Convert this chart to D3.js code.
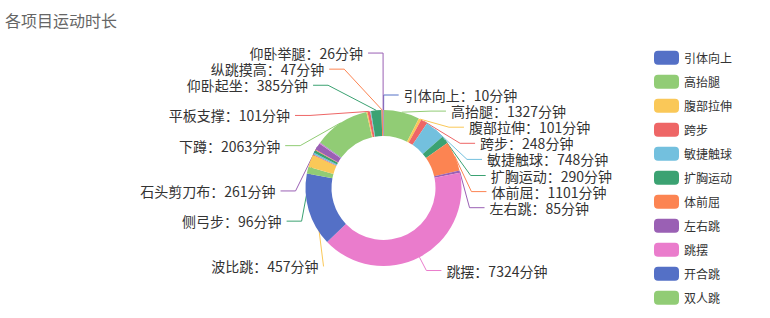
<!DOCTYPE html>
<html lang="zh-CN">
<head>
<meta charset="utf-8">
<script src="https://cdn.jsdelivr.net/npm/d3@7"></script>
<style>
html, body { margin: 0; padding: 0; background: #ffffff; }
svg { display: block; font-family: "Noto Sans CJK SC", "Microsoft YaHei", sans-serif; }
</style>
</head>
<body>
<svg id="chart" width="770" height="318"></svg>
<script>
// ---- data, clockwise from 12 o'clock ----
var chartTitle = "各项目运动时长";
var names = ["引体向上", "高抬腿", "腹部拉伸", "跨步", "敏捷触球", "扩胸运动", "体前屈", "左右跳",
  "跳摆", "开合跳", "双人跳", "波比跳", "原地跑", "深蹲跳", "侧弓步", "弓步跳", "石头剪刀布",
  "高位跳", "俯卧撑", "下蹲", "登山跑", "平板支撑", "踢腿", "仰卧起坐", "纵跳摸高", "仰卧举腿"];
var minutes = [10, 1327, 101, 248, 748, 290, 1101, 85,
  7324, 2700, 250, 457, 30, 70, 96, 30, 261,
  30, 20, 2063, 40, 101, 30, 385, 47, 26];
var unit = "分钟";
var palette = ["#5470c6", "#91cc75", "#fac858", "#ee6666", "#73c0de", "#3ba272", "#fc8452", "#9a60b4", "#ea7ccc"];

// ---- layout constants ----
var W = 770, H = 318;
var viewTop = 45, viewHeight = 260;
var cx = 383.5, cy = viewTop + viewHeight * 0.55;
var half = Math.min(W, viewHeight) / 2;
var rOuter = half * 0.6, rInner = half * 0.4;
var len1 = 15, len2 = 15, labelDist = 5;
var fontSize = 14, rectH = fontSize + 2.1;

var data = names.map(function (n, i) { return { name: n, value: minutes[i], color: palette[i % palette.length] }; });

var svg = d3.select("#chart");

// title
svg.append("text")
  .attr("x", 5).attr("y", 27)
  .attr("font-size", 16).attr("fill", "#666")
  .text(chartTitle);

var gLines = svg.append("g");
var gPie = svg.append("g").attr("transform", "translate(" + cx + "," + cy + ")");
var gLabels = svg.append("g");

var arcs = d3.pie().sort(null).value(function (d) { return d.value; })(data);
var arcGen = d3.arc().innerRadius(rInner).outerRadius(rOuter);

// measure label widths
var probe = svg.append("text").attr("font-size", fontSize);
function textWidth(s) { probe.text(s); return probe.node().getComputedTextLength(); }

// ---- initial label positions (echarts style: outside + label line) ----
var items = arcs.map(function (a, i) {
  var mid = (a.startAngle + a.endAngle) / 2;
  var nx = Math.sin(mid), ny = -Math.cos(mid);
  var x1 = cx + rOuter * nx, y1 = cy + rOuter * ny;
  var x2 = x1 + nx * len1, y2 = y1 + ny * len1;
  var dir = nx < 0 ? -1 : 1;
  var x3 = x2 + dir * len2;
  var lx = x3 + dir * labelDist;
  var text = a.data.name + "：" + a.data.value + unit;
  var w = textWidth(text);
  return {
    d: a.data, text: text, dir: dir, normal: [nx, ny], width: w,
    label: { x: lx, y: y2 },
    rect: { y: y2 - fontSize / 2 - 1.05, height: rectH },
    line: [[x1, y1], [x2, y2], [x3, y2]]
  };
});
probe.remove();

// ---- shift labels on one side so they do not overlap ----
function shiftLayout(list, minBound, maxBound) {
  var len = list.length;
  if (len < 2) return false;
  list.sort(function (a, b) { return a.rect.y - b.rect.y; });
  var lastPos = 0, adjusted = false;
  list.forEach(function (item) {
    var delta = item.rect.y - lastPos;
    if (delta < 0) { item.rect.y -= delta; item.label.y -= delta; adjusted = true; }
    lastPos = item.rect.y + item.rect.height;
  });
  var first = list[0], last = list[len - 1], minGap, maxGap;
  function updateGaps() {
    minGap = first.rect.y - minBound;
    maxGap = maxBound - last.rect.y - last.rect.height;
  }
  function shiftList(delta, start, end) {
    if (delta !== 0) adjusted = true;
    for (var i = start; i < end; i++) { list[i].rect.y += delta; list[i].label.y += delta; }
  }
  function squeezeGaps(delta, maxPct) {
    var gaps = [], total = 0;
    for (var i = 1; i < len; i++) {
      var p = list[i - 1].rect;
      var g = Math.max(list[i].rect.y - p.y - p.height, 0);
      gaps.push(g); total += g;
    }
    if (!total) return;
    var pct = Math.min(Math.abs(delta) / total, maxPct);
    if (delta > 0) { for (var j = 0; j < len - 1; j++) shiftList(gaps[j] * pct, 0, j + 1); }
    else { for (var k = len - 1; k > 0; k--) shiftList(-gaps[k - 1] * pct, k, len); }
  }
  function takeBoundsGap(gapThis, gapOther, moveDir) {
    if (gapThis < 0) {
      var move = Math.min(gapOther, -gapThis);
      if (move > 0) {
        shiftList(move * moveDir, 0, len);
        var remained = move + gapThis;
        if (remained < 0) squeezeGaps(-remained * moveDir, 1);
      } else {
        squeezeGaps(-gapThis * moveDir, 1);
      }
    }
  }
  function squeezeWhenBailout(delta) {
    var dir = delta < 0 ? -1 : 1;
    delta = Math.abs(delta);
    var step = Math.ceil(delta / (len - 1));
    for (var i = 0; i < len - 1; i++) {
      if (dir > 0) shiftList(step, 0, i + 1);
      else shiftList(-step, len - i - 1, len);
      delta -= step;
      if (delta <= 0) return;
    }
  }
  updateGaps();
  if (minGap < 0) squeezeGaps(-minGap, 0.8);
  if (maxGap < 0) squeezeGaps(maxGap, 0.8);
  updateGaps();
  takeBoundsGap(minGap, maxGap, 1);
  takeBoundsGap(maxGap, minGap, -1);
  updateGaps();
  if (minGap < 0) squeezeWhenBailout(-minGap);
  if (maxGap < 0) squeezeWhenBailout(maxGap);
  return adjusted;
}

// ---- move x back onto an ellipse after the y shift ----
function recalculateX(list, dir) {
  var rA = rOuter + len1;
  var semis = [{ list: [], maxY: 0, rB: rA }, { list: [], maxY: 0, rB: rA }];
  list.forEach(function (item) {
    var semi = item.label.y > cy ? semis[1] : semis[0];
    var dy = Math.abs(item.label.y - cy);
    if (dy >= semi.maxY) {
      var dx = item.label.x - cx - len2 * dir;
      semi.rB = Math.abs(dx) < rA ? Math.sqrt(dy * dy / (1 - dx * dx / rA / rA)) : rA;
      semi.maxY = dy;
    }
    semi.list.push(item);
  });
  semis.forEach(function (semi) {
    semi.list.forEach(function (item) {
      var dy = Math.abs(item.label.y - cy);
      var dx = Math.sqrt((1 - Math.abs(dy * dy / (semi.rB * semi.rB))) * rA * rA);
      item.label.x = cx + (dx + len2) * dir;
    });
  });
}

var leftList = items.filter(function (it) { return it.label.x < cx; });
var rightList = items.filter(function (it) { return it.label.x >= cx; });
if (shiftLayout(rightList, viewTop, viewTop + viewHeight)) recalculateX(rightList, 1);
if (shiftLayout(leftList, viewTop, viewTop + viewHeight)) recalculateX(leftList, -1);

// ---- label line geometry ----
function projectPointToLine(x1, y1, x2, y2, x, y, out) {
  var dx = x - x1, dy = y - y1;
  var dx1 = x2 - x1, dy1 = y2 - y1;
  var l = Math.sqrt(dx1 * dx1 + dy1 * dy1);
  dx1 /= l; dy1 /= l;
  var t = dx * dx1 + dy * dy1;
  out[0] = x1 + t * dx1; out[1] = y1 + t * dy1;
  return Math.sqrt((out[0] - x) * (out[0] - x) + (out[1] - y) * (out[1] - y));
}
function limitTurnAngle(pts, minTurnAngle) {
  var a = minTurnAngle / 180 * Math.PI;
  var p0 = pts[0], p1 = pts[1], p2 = pts[2];
  var d1 = [p0[0] - p1[0], p0[1] - p1[1]], d2 = [p2[0] - p1[0], p2[1] - p1[1]];
  var l1 = Math.hypot(d1[0], d1[1]), l2 = Math.hypot(d2[0], d2[1]);
  if (l1 < 1e-3 || l2 < 1e-3) return;
  d1 = [d1[0] / l1, d1[1] / l1]; d2 = [d2[0] / l2, d2[1] / l2];
  if (Math.cos(a) < d1[0] * d2[0] + d1[1] * d2[1]) {
    var proj = [0, 0];
    var d = projectPointToLine(p1[0], p1[1], p2[0], p2[1], p0[0], p0[1], proj);
    var m = d / Math.tan(Math.PI - a);
    proj = [proj[0] + d2[0] * m, proj[1] + d2[1] * m];
    var t = p2[0] !== p1[0] ? (proj[0] - p1[0]) / (p2[0] - p1[0]) : (proj[1] - p1[1]) / (p2[1] - p1[1]);
    if (isNaN(t)) return;
    if (t < 0) proj = [p1[0], p1[1]];
    else if (t > 1) proj = [p2[0], p2[1]];
    pts[1] = proj;
  }
}

items.forEach(function (it) {
  var pts = it.line;
  var dist = pts[1][0] - pts[2][0];
  pts[2][0] = it.label.x - it.dir * labelDist;
  pts[1][0] = pts[2][0] + dist;
  pts[1][1] = pts[2][1] = it.label.y;
  it.hidden = isNaN(it.label.x) || isNaN(it.label.y);
  if (!it.hidden) limitTurnAngle(pts, 90);
  it.box = {
    x: it.dir < 0 ? it.label.x - it.width : it.label.x,
    y: it.label.y - rectH / 2, w: it.width, h: rectH
  };
});

// ---- hide labels that still overlap, larger slices win ----
var shown = [];
items.slice().sort(function (a, b) { return b.d.value - a.d.value; }).forEach(function (it) {
  if (it.hidden) return;
  var hit = shown.some(function (o) {
    var ox = Math.min(it.box.x + it.box.w, o.box.x + o.box.w) - Math.max(it.box.x, o.box.x);
    var oy = Math.min(it.box.y + it.box.h, o.box.y + o.box.h) - Math.max(it.box.y, o.box.y);
    return ox > 0.5 && oy > 0.5;
  });
  if (hit) it.hidden = true; else shown.push(it);
});

var visible = items.filter(function (it) { return !it.hidden; });

// label lines (under the ring)
gLines.selectAll("path").data(visible).enter().append("path")
  .attr("d", function (it) { return d3.line()(it.line); })
  .attr("fill", "none")
  .attr("stroke", function (it) { return it.d.color; })
  .attr("stroke-width", 1);

// ring
gPie.selectAll("path").data(arcs).enter().append("path")
  .attr("d", arcGen)
  .attr("fill", function (a) { return a.data.color; });

// labels
gLabels.selectAll("text").data(visible).enter().append("text")
  .attr("x", function (it) { return it.label.x; })
  .attr("y", function (it) { return it.label.y; })
  .attr("text-anchor", function (it) { return it.dir < 0 ? "end" : "start"; })
  .attr("dominant-baseline", "central")
  .attr("font-size", fontSize)
  .attr("fill", "#333")
  .text(function (it) { return it.text; });

// ---- legend (vertical, cut at the bottom edge) ----
var legendX = 654, legendTop = 50.7, itemW = 25, itemH = 14, itemGap = 10;
var legendData = data.filter(function (d, i) { return legendTop + i * (itemH + itemGap) + itemH <= H; });
var lg = svg.append("g").selectAll("g").data(legendData).enter().append("g")
  .attr("transform", function (d, i) { return "translate(" + legendX + "," + (legendTop + i * (itemH + itemGap)) + ")"; });
lg.append("rect")
  .attr("width", itemW).attr("height", itemH).attr("rx", 4).attr("ry", 4)
  .attr("fill", function (d) { return d.color; });
lg.append("text")
  .attr("x", itemW + 5).attr("y", itemH / 2)
  .attr("dominant-baseline", "central")
  .attr("font-size", 12).attr("fill", "#333")
  .text(function (d) { return d.name; });
</script>
</body>
</html>
